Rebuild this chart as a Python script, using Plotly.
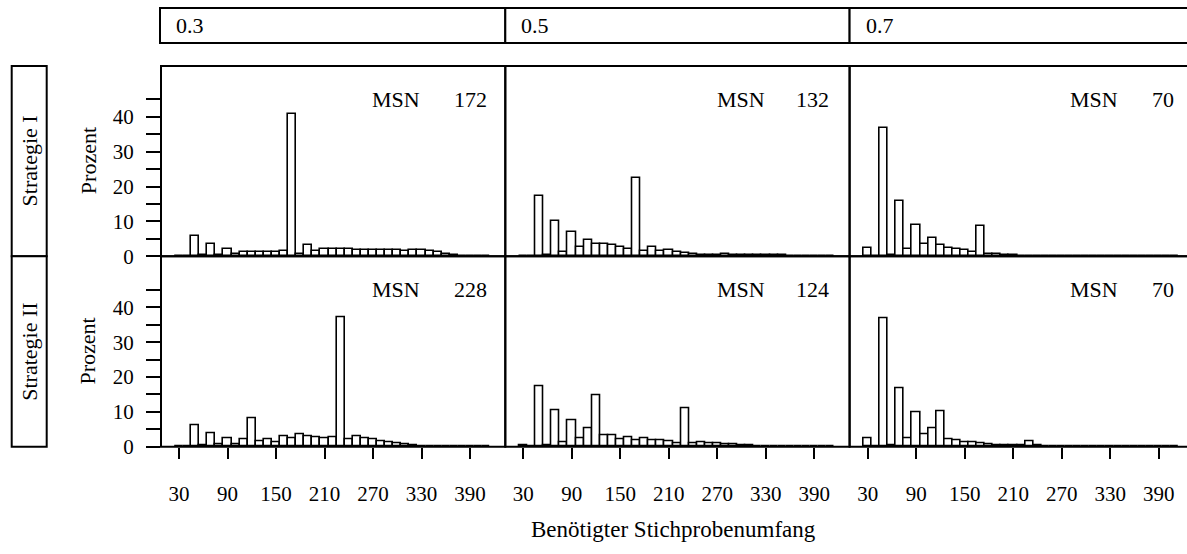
import plotly.graph_objects as go

# ---------------- data ----------------
bin_centers = [30, 40, 50, 60, 70, 80, 90, 100, 110, 120, 130, 140, 150, 160, 170, 180, 190, 200,
               210, 220, 230, 240, 250, 260, 270, 280, 290, 300, 310, 320, 330, 340, 350, 360,
               370, 380, 390, 400, 410]

# Strategie I
pct_I_03 = [0.2, 0, 5.8, 0.3, 3.6, 0.5, 2.2, 0.8, 1.3, 1.3, 1.3, 1.3, 1.3, 1.4, 40.8, 0.8, 3.1, 1.6,
            2.2, 2.1, 2.0, 2.0, 1.9, 1.9, 1.8, 1.8, 1.8, 1.8, 1.5, 1.7, 1.7, 1.6, 1.1, 0.8,
            0.4, 0.2, 0.1, 0.1, 0.05]
pct_I_05 = [0.2, 0, 17.3, 0.4, 10.0, 1.2, 6.9, 2.6, 4.6, 3.5, 3.5, 3.1, 2.7, 2.2, 22.4, 1.4, 2.7, 1.4,
            1.8, 1.2, 1.0, 0.7, 0.5, 0.45, 0.45, 0.75, 0.5, 0.4, 0.4, 0.4, 0.4, 0.4, 0.4, 0.15,
            0.1, 0.1, 0.1, 0.1, 0]
pct_I_07 = [2.5, 0, 36.8, 0.5, 16.0, 2.1, 9.1, 3.6, 5.2, 3.1, 2.5, 2.1, 1.8, 1.1, 8.7, 0.65, 0.6, 0.45,
            0.4, 0.2, 0.1, 0.1, 0.1, 0.1, 0.1, 0.1, 0.1, 0.1, 0.1, 0.1, 0.1, 0.1, 0.1, 0,
            0, 0, 0, 0, 0]
# Strategie II
pct_II_03 = [0, 0, 6.1, 0.5, 3.9, 0.65, 2.3, 0.85, 2.2, 8.1, 1.6, 2.1, 1.2, 3.1, 2.5, 3.5, 2.9, 2.6,
             2.5, 2.7, 37.0, 2.05, 2.9, 2.3, 2.2, 1.7, 1.2, 0.9, 0.75, 0.3, 0, 0, 0, 0,
             0, 0, 0, 0, 0]
pct_II_05 = [0.45, 0, 17.4, 0.45, 10.6, 1.3, 7.5, 2.5, 5.3, 14.7, 3.2, 3.2, 2.2, 2.8, 2.0, 2.5, 2.0, 1.8,
             1.5, 1.1, 11.0, 1.1, 1.4, 1.1, 1.1, 0.65, 0.65, 0.45, 0.3, 0.1, 0, 0, 0, 0,
             0, 0, 0, 0, 0]
pct_II_07 = [2.5, 0, 36.7, 0.45, 16.8, 2.5, 9.8, 3.45, 5.3, 10.1, 2.2, 1.9, 1.3, 1.2, 0.9, 0.75, 0.55, 0.35,
             0.3, 0.3, 1.5, 0.3, 0.1, 0.1, 0.1, 0.1, 0.1, 0.1, 0, 0, 0, 0, 0, 0,
             0, 0, 0, 0, 0]

col_labels = ["0.3", "0.5", "0.7"]
row_labels = ["Strategie I", "Strategie II"]
msn_values = [["172", "132", "70"], ["228", "124", "70"]]
panel_data = [[pct_I_03, pct_I_05, pct_I_07], [pct_II_03, pct_II_05, pct_II_07]]

x_tick_vals = [30, 90, 150, 210, 270, 330, 390]
y_tick_vals = [0, 10, 20, 30, 40]
y_minor_vals = [5, 15, 25, 35, 45]
x_title = "Benötigter Stichprobenumfang"
y_title = "Prozent"

# ---------------- layout geometry (pixels) ----------------
W, H = 1187, 554
FONT = "'Liberation Serif', 'DejaVu Serif', serif"
FS_TICK = 21
FS_LABEL = 22
col_left = [161, 505.3, 849.6]
col_right = [505.3, 849.6, 1187]
col_right_full = [505.3, 849.6, 1193.9]
row_top = [67.5, 262]
row_bot = [262, 456.7]
px_per_unit_x = 291 / 360.0
x_min = 7.7
y_max = 54.6


def px(x):
    return x / W


def py(y):
    return 1 - y / H


def tfont(size=FS_LABEL):
    return dict(family=FONT, size=size, color="black")


fig = go.Figure()
layout = dict(
    width=W, height=H, margin=dict(l=0, r=0, t=0, b=0),
    paper_bgcolor="white", plot_bgcolor="white", showlegend=False,
    font=tfont(), bargap=0,
)
shapes = []
annotations = []

for r in range(2):
    for c in range(3):
        i = r * 3 + c + 1
        xa = "xaxis" if i == 1 else f"xaxis{i}"
        ya = "yaxis" if i == 1 else f"yaxis{i}"
        xr = "x" if i == 1 else f"x{i}"
        yr = "y" if i == 1 else f"y{i}"
        fig.add_trace(go.Bar(
            x=bin_centers, y=panel_data[r][c], width=10,
            marker=dict(color="white", line=dict(color="black", width=1.6)),
            xaxis=xr, yaxis=yr, hoverinfo="x+y",
        ))
        x_max = x_min + (col_right[c] - col_left[c]) / px_per_unit_x
        xax = dict(
            domain=[px(col_left[c]), px(col_right[c])], range=[x_min, x_max],
            anchor=yr, showgrid=False, zeroline=False, showline=False,
            tickmode="array", tickvals=x_tick_vals, ticktext=[str(v) for v in x_tick_vals],
        )
        if r == 1:
            xax.update(ticks="outside", ticklen=11, tickwidth=1.6, tickcolor="black",
                       showticklabels=True, ticklabelstandoff=17, tickfont=tfont(FS_TICK))
        else:
            xax.update(ticks="", showticklabels=False)
        yax = dict(
            domain=[py(row_bot[r]), py(row_top[r])], range=[0, y_max],
            anchor=xr, showgrid=False, zeroline=False, showline=False,
            tickmode="array", tickvals=y_tick_vals, ticktext=[str(v) for v in y_tick_vals],
        )
        if c == 0:
            yax.update(ticks="outside", ticklen=14, tickwidth=1.6, tickcolor="black",
                       showticklabels=True, ticklabelstandoff=8, tickfont=tfont(FS_TICK),
                       minor=dict(tickmode="array", tickvals=y_minor_vals, ticks="outside",
                                  ticklen=14, tickwidth=1.6, tickcolor="black", showgrid=False))
        else:
            yax.update(ticks="", showticklabels=False)
        layout[xa] = xax
        layout[ya] = yax

        # panel border
        shapes.append(dict(type="rect", xref="paper", yref="paper",
                           x0=px(col_left[c]), x1=px(col_right_full[c]),
                           y0=py(row_bot[r]), y1=py(row_top[r]),
                           line=dict(color="black", width=2), fillcolor="rgba(0,0,0,0)", layer="above"))

# MSN annotations (pixel positions)
msn_left = [370, 715, 1068]
num_right = [489, 831, 1176]
msn_y = [101.5, 295.5]
for r in range(2):
    for c in range(3):
        annotations.append(dict(text="MSN", xref="paper", yref="paper", x=px(msn_left[c]), y=py(msn_y[r]),
                                xanchor="left", yanchor="middle", showarrow=False, font=tfont()))
        annotations.append(dict(text=msn_values[r][c], xref="paper", yref="paper", x=px(num_right[c]),
                                y=py(msn_y[r]), xanchor="right", yanchor="middle", showarrow=False,
                                font=tfont()))

# top strips
strip_top, strip_bot = 8.3, 44
strip_left = [160, 505.3, 849.6]
for c in range(3):
    shapes.append(dict(type="rect", xref="paper", yref="paper",
                       x0=px(strip_left[c]), x1=px(col_right_full[c]),
                       y0=py(strip_bot), y1=py(strip_top),
                       line=dict(color="black", width=2), fillcolor="white"))
    annotations.append(dict(text=col_labels[c], xref="paper", yref="paper",
                            x=px(strip_left[c] + 14), y=py((strip_top + strip_bot) / 2),
                            xanchor="left", yanchor="middle", showarrow=False, font=tfont()))

# left strips and y titles
for r in range(2):
    shapes.append(dict(type="rect", xref="paper", yref="paper",
                       x0=px(11.7), x1=px(46.7), y0=py(row_bot[r]), y1=py(row_top[r]),
                       line=dict(color="black", width=2), fillcolor="white"))
    ymid = (row_top[r] + row_bot[r]) / 2
    annotations.append(dict(text=row_labels[r], xref="paper", yref="paper",
                            x=px(29.2), y=py(ymid), textangle=-90,
                            xanchor="center", yanchor="middle", showarrow=False, font=tfont()))
    annotations.append(dict(text=y_title, xref="paper", yref="paper",
                            x=px(88), y=py(ymid), textangle=-90,
                            xanchor="center", yanchor="middle", showarrow=False, font=tfont()))

annotations.append(dict(text=x_title, xref="paper", yref="paper",
                        x=px(673), y=py(541), xanchor="center", yanchor="middle", showarrow=False,
                        font=tfont(23)))

layout["shapes"] = shapes
layout["annotations"] = annotations
fig.update_layout(**layout)
fig.write_html("out.html")
